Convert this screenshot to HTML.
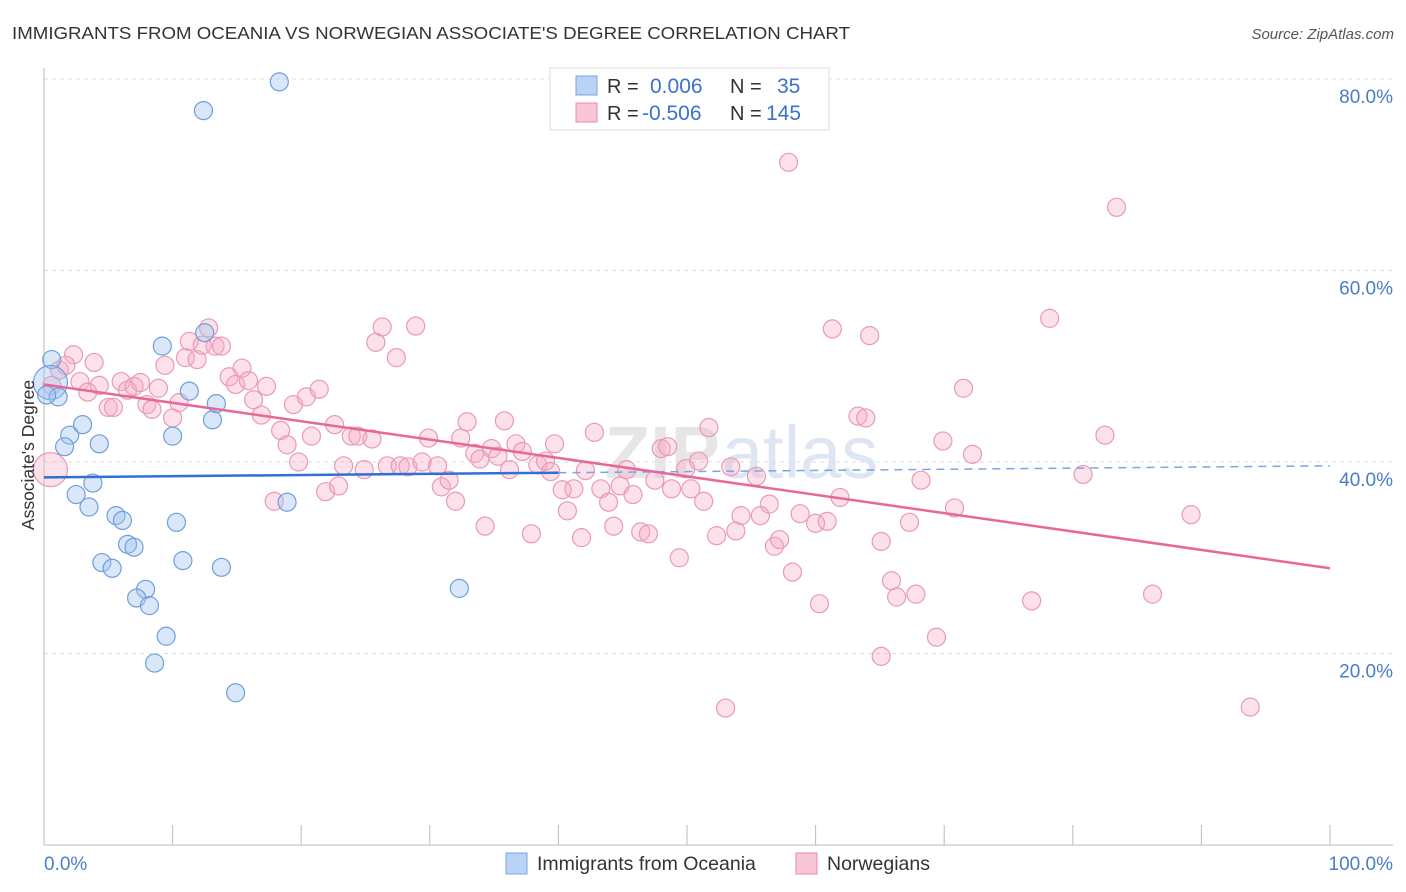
<!DOCTYPE html>
<html><head><meta charset="utf-8"><style>
body{margin:0;background:#fff;font-family:"Liberation Sans",sans-serif;}
svg{display:block}
</style></head><body>
<svg id="c" width="1406" height="892">
<text x="12" y="39" font-size="17.5" fill="#333" textLength="838" lengthAdjust="spacingAndGlyphs">IMMIGRANTS FROM OCEANIA VS NORWEGIAN ASSOCIATE'S DEGREE CORRELATION CHART</text>
<text x="1394" y="39" font-size="15" fill="#555" font-style="italic" text-anchor="end">Source: ZipAtlas.com</text>
<text x="720" y="478" font-size="74" font-weight="bold" fill="#e6e6e6" text-anchor="end">ZIP</text>
<text x="722" y="478" font-size="74" fill="#dde6f2">atlas</text>
<g id="grid"></g><g id="marks"></g>
<text transform="translate(34,455) rotate(-90)" font-size="17.5" fill="#333" text-anchor="middle">Associate's Degree</text>
<text x="44" y="870" font-size="19" fill="#4a7cc9">0.0%</text>
<text x="1393" y="870" font-size="19" fill="#4a7cc9" text-anchor="end">100.0%</text>
<g>
<rect x="550" y="68" width="279" height="62" fill="#fff" stroke="#ddd"/>
<rect x="576" y="76" width="21" height="19" fill="#b8d3f5" stroke="#7aa6e0"/>
<rect x="576" y="103" width="21" height="19" fill="#f8c6d6" stroke="#e88aaa"/>
<text x="607" y="93" font-size="20" fill="#333">R = </text><text x="650" y="93" font-size="21" fill="#3a72cc">0.006</text>
<text x="730" y="93" font-size="20" fill="#333">N = </text><text x="777" y="93" font-size="21" fill="#3a72cc">35</text>
<text x="607" y="120" font-size="20" fill="#333">R = </text><text x="642" y="120" font-size="21" fill="#3a72cc">-0.506</text>
<text x="730" y="120" font-size="20" fill="#333">N = </text><text x="766" y="120" font-size="21" fill="#3a72cc">145</text>
</g>
<g>
<rect x="506" y="853" width="21" height="21" fill="#b8d3f5" stroke="#7aa6e0"/>
<text x="537" y="870" font-size="19.5" fill="#333">Immigrants from Oceania</text>
<rect x="796" y="853" width="21" height="21" fill="#f8c6d6" stroke="#e88aaa"/>
<text x="827" y="870" font-size="19.5" fill="#333">Norwegians</text>
</g>
</svg>
<script>
const yTicks=[20,40,60,80];
const xTicks=[0,10,20,30,40,50,60,70,80,90,100];
const blueX=[0.6,0.5,1.1,0.2,2.0,3.0,1.6,4.3,3.8,2.5,3.5,5.6,6.1,6.5,7.0,4.5,5.3,7.9,7.2,8.2,9.5,8.6,9.2,10.0,10.3,10.8,11.3,13.1,13.4,12.5,13.8,14.9,12.4,18.3,18.9,32.3];
const blueY=[50.7,48.3,46.8,47.0,42.8,43.9,41.6,41.9,37.8,36.6,35.3,34.4,33.9,31.4,31.1,29.5,28.9,26.7,25.8,25.0,21.8,19.0,52.1,42.7,33.7,29.7,47.4,44.4,46.1,53.5,29.0,15.9,76.7,79.7,35.8,26.8];
const pinkX=[0.5,0.6,1.2,2.3,1.7,3.9,2.8,3.4,4.3,5.0,5.4,6.0,6.5,7.0,7.5,8.0,8.4,8.9,9.4,10.0,10.5,11.0,11.3,11.9,12.3,12.8,13.3,13.8,14.4,14.9,15.4,15.9,16.3,16.9,17.3,17.9,18.4,18.9,19.4,19.8,20.4,20.8,21.4,21.9,22.6,22.9,23.3,23.9,24.4,24.9,25.5,25.8,26.3,26.7,27.4,27.7,28.3,28.9,29.4,29.9,30.6,30.9,31.5,32.0,32.4,32.9,33.5,33.9,34.3,34.8,35.3,35.8,36.2,36.7,37.2,37.9,38.4,39.0,39.4,39.7,40.3,40.7,41.2,41.8,42.1,42.8,43.3,43.9,44.3,44.8,45.3,45.8,46.4,47.0,47.5,48.0,48.5,48.8,49.4,49.9,50.3,50.9,51.3,51.7,52.3,53.0,53.4,53.8,54.2,55.4,55.7,56.4,56.8,57.2,57.9,58.2,58.8,60.0,60.3,60.9,61.3,61.9,63.3,63.9,64.2,65.1,65.1,65.9,66.3,67.3,67.8,68.2,69.4,69.9,70.8,71.5,72.2,76.8,78.2,80.8,82.5,83.4,86.2,89.2,93.8];
const pinkY=[39.2,48.0,49.6,51.2,50.1,50.4,48.4,47.3,48.0,45.7,45.7,48.4,47.5,47.9,48.3,46.0,45.5,47.7,50.1,44.6,46.2,50.9,52.6,50.7,52.2,54.0,52.1,52.1,48.9,48.1,49.8,48.5,46.5,44.9,47.9,35.9,43.3,41.8,46.0,40.0,46.8,42.7,47.6,36.9,43.9,37.5,39.6,42.7,42.7,39.2,42.4,52.5,54.1,39.6,50.9,39.6,39.5,54.2,40.0,42.5,39.6,37.4,38.1,35.9,42.5,44.2,40.9,40.3,33.3,41.4,40.6,44.3,39.2,41.9,41.1,32.5,39.7,40.1,39.0,41.9,37.1,34.9,37.2,32.1,39.1,43.1,37.2,35.8,33.3,37.5,39.2,36.6,32.7,32.5,38.1,41.4,41.6,37.2,30.0,39.3,37.2,40.1,35.9,43.6,32.3,14.3,39.5,32.8,34.4,38.5,34.4,35.6,31.2,31.9,71.3,28.5,34.6,33.6,25.2,33.8,53.9,36.3,44.8,44.6,53.2,31.7,19.7,27.6,25.9,33.7,26.2,38.1,21.7,42.2,35.2,47.7,40.8,25.5,55.0,38.7,42.8,66.6,26.2,34.5,14.4];
const blueLine=[38.4,39.6]; // y at x=0 and x=100
const pinkLine=[48.1,28.9];
const X=v=>44+v*12.86, Y=v=>845-v*9.575;
const NS='http://www.w3.org/2000/svg';
function mk(t,a,p){const e=document.createElementNS(NS,t);for(const k in a)e.setAttribute(k,a[k]);p.appendChild(e);return e;}
const g=document.getElementById('grid'), m=document.getElementById('marks');
yTicks.forEach(t=>{
 const l=mk('line',{x1:44,x2:1393,y1:Y(t),y2:Y(t),stroke:'#ddd','stroke-dasharray':'4,4'},g);
 
 
 const tx=mk('text',{x:1393,y:Y(t)+24,'font-size':19,fill:'#4a7cc9','text-anchor':'end'},g);
 tx.textContent=t.toFixed(1)+'%';
 
 
});
const ax=mk('line',{x1:44,x2:44,y1:68,y2:845,stroke:'#bbb'},g);


const bx=mk('line',{x1:44,x2:1393,y1:845,y2:845,stroke:'#bbb'},g);


xTicks.forEach(t=>{const l=mk('line',{x1:X(t),x2:X(t),y1:825,y2:845,stroke:'#bbb'},g);
 
 });
pinkX.forEach((x,i)=>{const r=i===0?17:9;
 const c=mk('circle',{cx:X(x),cy:Y(pinkY[i]),r:r,fill:'rgba(245,170,196,0.35)',stroke:'#e99ab5','stroke-width':1.2},m);
 
 });
blueX.forEach((x,i)=>{const r=i===1?17:9;
 const c=mk('circle',{cx:X(x),cy:Y(blueY[i]),r:r,fill:'rgba(160,195,240,0.4)',stroke:'#6f9fdc','stroke-width':1.2},m);
 
 });
const by=x=>blueLine[0]+(blueLine[1]-blueLine[0])*x/100;
let l=mk('line',{x1:X(0),y1:Y(by(0)),x2:X(40),y2:Y(by(40)),stroke:'#3070d0','stroke-width':2.5},m);


l=mk('line',{x1:X(40),y1:Y(by(40)),x2:X(100),y2:Y(by(100)),stroke:'#7aa6e0','stroke-width':1.5,'stroke-dasharray':'8,6'},m);


l=mk('line',{x1:X(0),y1:Y(pinkLine[0]),x2:X(100),y2:Y(pinkLine[1]),stroke:'#e8679a','stroke-width':2.5},m);


</script>
</body></html>
